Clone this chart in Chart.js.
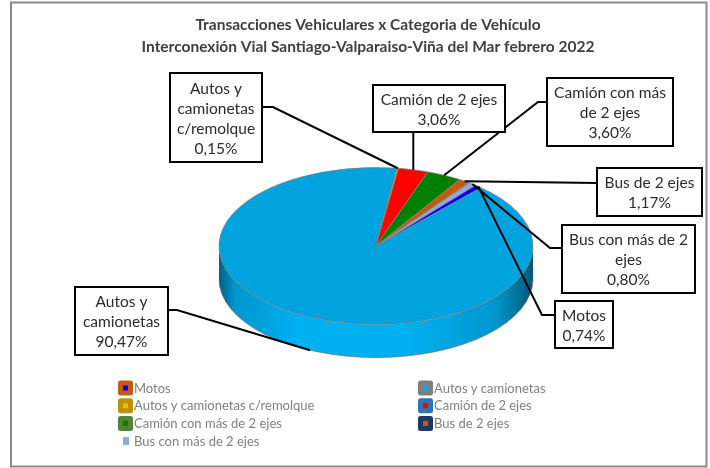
<!DOCTYPE html>
<html><head><meta charset="utf-8">
<script src="https://cdn.jsdelivr.net/npm/chart.js@4.4.1/dist/chart.umd.min.js"></script>
<style>html,body{margin:0;padding:0;background:#fff;}#wrap{width:710px;height:468px;position:relative;}</style>
</head><body><div id="wrap"><canvas id="c" width="710" height="468"></canvas></div>
<script>
// ---- data ----
const categories = ['Motos','Autos y camionetas','Autos y camionetas c/remolque','Camión de 2 ejes','Camión con más de 2 ejes','Bus de 2 ejes','Bus con más de 2 ejes'];
const shares = [0.74, 90.47, 0.15, 3.06, 3.60, 1.17, 0.80];
const titleLines = ['Transacciones Vehiculares x Categoria de Vehículo','Interconexión Vial Santiago-Valparaiso-Viña del Mar febrero 2022'];

// ---- styles / layout ----
const sliceColors = ['#0000FF','#00A3DE','#E8C000','#FF0000','#008000','#C55A11','#8FAADC'];
const sideBase = '#00B0F0';
const legendFrameColors = ['#C55A11','#7F7F7F','#BF9000','#2E75B6','#548235','#203864',null];
const FONT = 'Lato';
const PIE = {cx:376, cy:246, r:157, tilt:0.5, depth:33, rotation:39.3};
const labelLayout = [
  {x:555,y:301,w:58,h:47, words:[1],     from:[555,315], elbow:[542,315]},
  {x:75, y:287,w:93,h:68, words:[2,1],   from:[168,310], elbow:[177,310]},
  {x:170,y:73, w:92,h:89, words:[2,1,1], from:[262,107], elbow:[273,107]},
  {x:373,y:85, w:132,h:47,words:[4],     vertical:true},
  {x:547,y:78, w:126,h:68,words:[3,3],   from:[547,102], elbow:[538,102]},
  {x:597,y:168,w:105,h:48,words:[4],     from:[597,183]},
  {x:562,y:225,w:133,h:68,words:[5,1],   from:[562,248], elbow:[550,248]}
];
const LEG = {x0:118, colGap:300, y0:388, rowStep:17.7};

function shade(hex, f){
  const n=parseInt(hex.slice(1),16);
  let r=(n>>16)&255,g=(n>>8)&255,b=n&255;
  const m=v=>Math.max(0,Math.min(255,Math.round(f>=1? v+(255-v)*(f-1): v*f)));
  return `rgb(${m(r)},${m(g)},${m(b)})`;
}

const pie3d = {
  id:'pie3d',
  beforeDraw(chart){
    const ctx=chart.ctx; ctx.save();
    ctx.strokeStyle='#8a8a8a'; ctx.lineWidth=2;
    ctx.strokeRect(11,2.5,695.5,464);
    ctx.restore();
  },
  beforeDatasetsDraw(chart){
    const ctx=chart.ctx, meta=chart.getDatasetMeta(0);
    const {cx,cy,r,tilt,depth}=PIE, ry=r*tilt;
    meta.data.forEach((arc,i)=>{
      const s=arc.startAngle, e=arc.endAngle;
      for(let k=-2;k<=2;k++){
        const a=Math.max(s,2*Math.PI*k), b=Math.min(e,2*Math.PI*k+Math.PI);
        if(b<=a) continue;
        const base=i===1?sideBase:sliceColors[i];
        const g=ctx.createLinearGradient(cx-r,0,cx+r,0);
        g.addColorStop(0,shade(base,0.55));
        g.addColorStop(0.05,shade(base,0.85));
        g.addColorStop(0.25,shade(base,1.0));
        g.addColorStop(0.6,shade(base,1.0));
        g.addColorStop(0.88,shade(base,0.86));
        g.addColorStop(1,shade(base,0.5));
        ctx.save();
        ctx.beginPath();
        ctx.ellipse(cx,cy,r,ry,0,a,b,false);
        ctx.ellipse(cx,cy+depth,r,ry,0,b,a,true);
        ctx.closePath();
        ctx.fillStyle=g; ctx.fill();
        ctx.beginPath();
        ctx.ellipse(cx,cy+depth,r,ry,0,a,b,false);
        ctx.strokeStyle='rgba(110,110,110,0.7)'; ctx.lineWidth=1; ctx.stroke();
        ctx.restore();
      }
    });
    const a0=meta.data[0];
    ctx.save();
    ctx.translate(cx,cy); ctx.scale(1,tilt); ctx.translate(-a0.x,-a0.y);
  },
  afterDatasetsDraw(chart){
    const ctx=chart.ctx; ctx.restore();
    const meta=chart.getDatasetMeta(0);
    const {cx,cy,r,tilt,depth}=PIE;
    ctx.save();
    ctx.strokeStyle='#000'; ctx.lineWidth=2; ctx.lineJoin='miter';
    meta.data.forEach((arc,i)=>{
      const m=(arc.startAngle+arc.endAngle)/2;
      const px=cx+r*Math.cos(m), py=cy+r*tilt*Math.sin(m)+(Math.sin(m)>0?depth:0);
      const L=labelLayout[i];
      ctx.beginPath();
      if(L.vertical){ ctx.moveTo(px,L.y+L.h); ctx.lineTo(px,py); }
      else { ctx.moveTo(L.from[0],L.from[1]); if(L.elbow) ctx.lineTo(L.elbow[0],L.elbow[1]); ctx.lineTo(px,py); }
      ctx.stroke();
    });
    ctx.font=`15.5px ${FONT}`; ctx.textAlign='center'; ctx.textBaseline='middle';
    meta.data.forEach((arc,i)=>{
      const L=labelLayout[i];
      ctx.fillStyle='#fff'; ctx.fillRect(L.x,L.y,L.w,L.h);
      ctx.strokeStyle='#000'; ctx.lineWidth=2; ctx.strokeRect(L.x,L.y,L.w,L.h);
      const words=categories[i].split(' '); const lines=[]; let p=0;
      L.words.forEach(n=>{lines.push(words.slice(p,p+n).join(' ')); p+=n;});
      lines.push(shares[i].toFixed(2).replace('.',',')+'%');
      const lh=20, mid=L.y+L.h/2;
      ctx.fillStyle='#2b2b2b';
      lines.forEach((t,j)=>ctx.fillText(t,L.x+L.w/2,mid+(j-(lines.length-1)/2)*lh+1));
    });
    ctx.restore();
  },
  afterDraw(chart){
    const ctx=chart.ctx; ctx.save();
    ctx.font=`13px ${FONT}`; ctx.textBaseline='middle'; ctx.textAlign='left';
    categories.forEach((name,i)=>{
      const col=i%2,row=Math.floor(i/2);
      const x=LEG.x0+col*LEG.colGap, y=LEG.y0+row*LEG.rowStep;
      if(legendFrameColors[i]){
        ctx.fillStyle=legendFrameColors[i];
        ctx.beginPath(); ctx.roundRect(x,y-7.5,15,15,2.5); ctx.fill();
        ctx.fillStyle=i===1?sideBase:sliceColors[i];
        ctx.fillRect(x+5,y-2.5,5,5);
      } else {
        ctx.fillStyle=sliceColors[i]; ctx.fillRect(x+5,y-4,6,8);
      }
      ctx.fillStyle='#808080';
      ctx.fillText(name,x+16,y+0.5);
    });
    ctx.restore();
  }
};

new Chart(document.getElementById('c'),{
  type:'pie',
  data:{labels:categories,datasets:[{data:shares,backgroundColor:sliceColors,borderColor:'#808080',borderWidth:1,radius:PIE.r,clip:false,hoverOffset:0}]},
  options:{
    responsive:false, animation:false, events:[],
    rotation:PIE.rotation,
    layout:{padding:{left:30,right:4,top:0,bottom:0}},
    plugins:{
      legend:{display:false}, tooltip:{enabled:false},
      title:{display:true,text:titleLines,color:'#404040',font:{family:FONT,size:15.5,weight:'bold',lineHeight:'22px'},padding:{top:14,bottom:10}}
    }
  },
  plugins:[pie3d]
});
</script></body></html>
